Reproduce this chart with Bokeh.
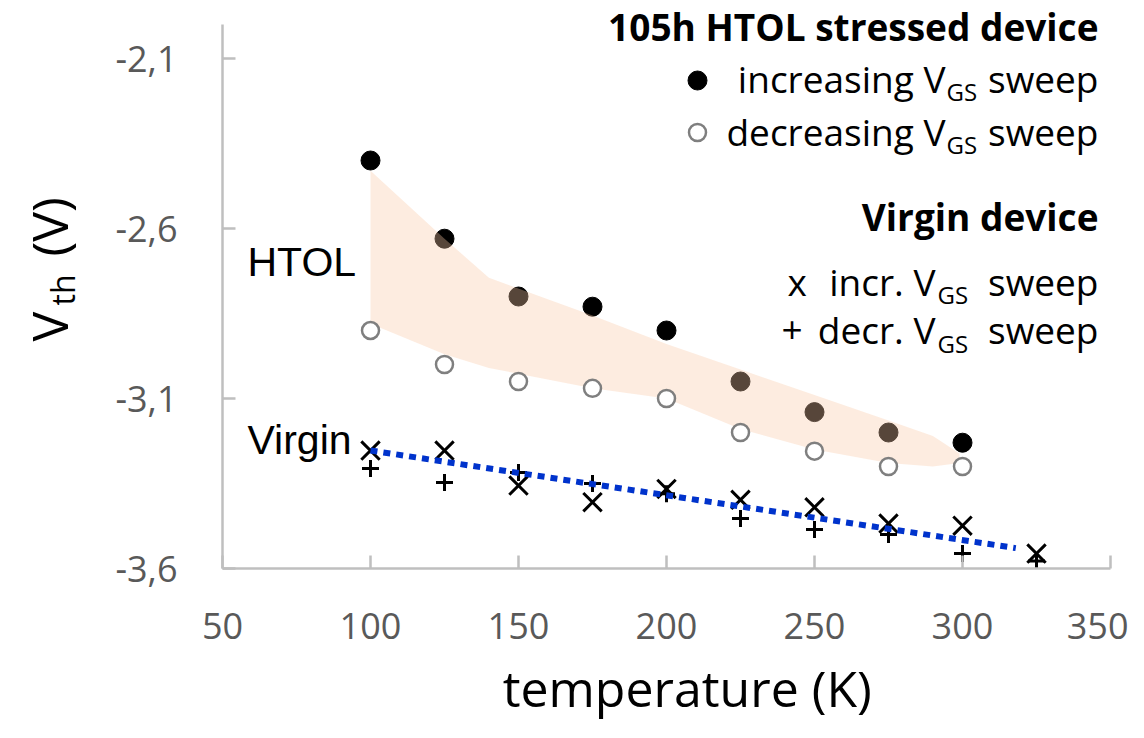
from bokeh.plotting import figure
from bokeh.models import Range1d, FixedTicker, Label
from bokeh.layouts import row, column
from bokeh.core.properties import value
from bokeh.embed import file_html
from bokeh.resources import INLINE
import math

# ---------------- data ----------------
temperature = [100, 125, 150, 175, 200, 225, 250, 275, 300]
htol_incr = [-2.40, -2.63, -2.80, -2.83, -2.90, -3.05, -3.14, -3.20, -3.23]
htol_decr = [-2.90, -3.00, -3.05, -3.07, -3.10, -3.20, -3.255, -3.30, -3.30]

virgin_temperature = [100, 125, 150, 175, 200, 225, 250, 275, 300, 325]
virgin_incr = [-3.253, -3.253, -3.356, -3.405, -3.366, -3.398, -3.42, -3.468, -3.474, -3.556]
virgin_decr = [-3.306, -3.347, -3.318, -3.35, -3.38, -3.453, -3.485, -3.50, -3.556, -3.578]

# shaded HTOL band (upper / lower edge)
band_temperature = [100, 125, 140, 175, 200, 225, 250, 275, 290, 299]
band_upper = [-2.43, -2.63, -2.745, -2.856, -2.94, -3.015, -3.09, -3.165, -3.21, -3.262]
band_lower = [-2.88, -2.97, -3.01, -3.07, -3.10, -3.19, -3.25, -3.29, -3.30, -3.29]

# linear trend of the virgin device
trend_temperature = [100, 318]
trend_vth = [-3.253, -3.54]

x_ticks = [50, 100, 150, 200, 250, 300, 350]
y_ticks = [-3.6, -3.1, -2.6, -2.1]
y_tick_labels = ["-3,6", "-3,1", "-2,6", "-2,1"]

# ---------------- layout ----------------
X0, X1 = 50, 350
Y0, Y_AXIS_TOP = -3.6, -2.0
PX_PER_V = 340.0
W, H = 1128, 722
LEFT_W = 100                      # strip holding the y title
BOTTOM_H = 68                     # strip holding the x title
FRAME_L, FRAME_R, FRAME_T, FRAME_B = 222, 1110, 0, 568  # canvas pixels
Y1 = Y0 + (FRAME_B - FRAME_T) / PX_PER_V
MAIN_W, MAIN_H = W - LEFT_W, H - BOTTOM_H


def dx(px):
    return X0 + (px - FRAME_L) * (X1 - X0) / (FRAME_R - FRAME_L)


def dy(py):
    return Y0 + (FRAME_B - py) / PX_PER_V


FONT = "Open Sans"
AXIS_GREY = "#bfbfbf"
BASE_SHIFT = 0.37   # measured downward shift of Bokeh's alphabetic baseline (em)

p = figure(width=MAIN_W, height=MAIN_H, x_range=Range1d(X0, X1), y_range=Range1d(Y0, Y1),
           output_backend="svg", toolbar_location=None,
           min_border_left=FRAME_L - LEFT_W, min_border_right=W - FRAME_R,
           min_border_top=FRAME_T, min_border_bottom=MAIN_H - FRAME_B)
p.outline_line_color = None
p.xgrid.visible = False
p.ygrid.visible = False

for ax in (p.xaxis[0], p.yaxis[0]):
    ax.axis_line_color = AXIS_GREY
    ax.axis_line_width = 2.5
    ax.major_tick_line_color = AXIS_GREY
    ax.major_tick_line_width = 2.5
    ax.major_tick_in = 13
    ax.major_tick_out = 0
    ax.minor_tick_line_color = None
    ax.major_label_text_font = FONT
    ax.major_label_text_font_size = "36px"
    ax.major_label_text_color = "#595959"

p.xaxis[0].ticker = FixedTicker(ticks=x_ticks)
p.xaxis[0].major_label_standoff = 44
p.yaxis[0].ticker = FixedTicker(ticks=y_ticks)
p.yaxis[0].major_label_overrides = dict(zip(y_ticks, y_tick_labels))
p.yaxis[0].major_label_standoff = 45
p.yaxis[0].bounds = (Y0, Y_AXIS_TOP)

# ---------------- marks ----------------
p.scatter(temperature, htol_incr, marker="circle", size=19,
          fill_color="black", line_color="black")
p.varea(x=band_temperature, y1=band_lower, y2=band_upper,
        fill_color=(249, 201, 166), fill_alpha=0.35)
p.scatter(temperature, htol_decr, marker="circle", size=17,
          fill_color="white", line_color="#7f7f7f", line_width=2.5)
p.scatter(virgin_temperature, virgin_incr, marker="x", size=26,
          line_color="black", line_width=3)
p.scatter(virgin_temperature, virgin_decr, marker="cross", size=17,
          line_color="black", line_width=3)
p.line(trend_temperature, trend_vth, line_color="#0033cc", line_width=6,
       line_dash="7 6", line_cap="butt")


# ---------------- texts ----------------
def txt(px, py, text, size, align="left", bold=False, font=FONT, color="black"):
    """Label whose alphabetic baseline sits at canvas pixel (px, py)."""
    p.add_layout(Label(x=dx(px), y=dy(py - BASE_SHIFT * size), text=text, text_font=font,
                       text_font_size=f"{size}px", text_align=align,
                       text_baseline="alphabetic", text_color=color,
                       text_font_style="bold" if bold else "normal"))


# in-plot labels
txt(247, 277, "HTOL", 41, font="Liberation Sans")
txt(247, 455, "Virgin", 41, font="Liberation Sans")

# legend block
txt(1098, 40, "105h HTOL stressed device", 37, align="right", bold=True)
p.scatter([dx(697)], [dy(80)], marker="circle", size=19, fill_color="black", line_color="black")
txt(945, 92, "increasing V", 37, align="right")
txt(946, 100, "GS", 24)
txt(1098, 92, "sweep", 37, align="right")
p.scatter([dx(697)], [dy(132)], marker="circle", size=17, fill_color="white",
          line_color="#7f7f7f", line_width=2.5)
txt(945, 145, "decreasing V", 37, align="right")
txt(946, 153, "GS", 24)
txt(1098, 145, "sweep", 37, align="right")

txt(1098, 230, "Virgin device", 37, align="right", bold=True)
txt(787, 295, "x", 37)
txt(935, 295, "incr. V", 37, align="right")
txt(937, 303, "GS", 24)
txt(1098, 295, "sweep", 37, align="right")
txt(781, 343, "+", 37)
txt(935, 343, "decr. V", 37, align="right")
txt(937, 352, "GS", 24)
txt(1098, 343, "sweep", 37, align="right")

# ---------------- y title strip ----------------
ylab = figure(width=LEFT_W, height=H, x_range=Range1d(0, LEFT_W), y_range=Range1d(H, 0),
              output_backend="svg", toolbar_location=None,
              x_axis_location=None, y_axis_location=None, min_border=0)
ylab.outline_line_color = None
ylab.grid.visible = False
ylab.text(x=[48], y=[341], text=["V"], angle=math.pi / 2, text_font=value(FONT),
          text_font_size="50px", text_align="left", text_baseline="middle", text_color="black")
ylab.text(x=[62], y=[305], text=["th"], angle=math.pi / 2, text_font=value(FONT),
          text_font_size="32px", text_align="left", text_baseline="middle", text_color="black")
ylab.text(x=[48], y=[256], text=["(V)"], angle=math.pi / 2, text_font=value(FONT),
          text_font_size="50px", text_align="left", text_baseline="middle", text_color="black")

# ---------------- x title strip ----------------
xlab = figure(width=MAIN_W, height=BOTTOM_H, x_range=Range1d(LEFT_W, W), y_range=Range1d(BOTTOM_H, 0),
              output_backend="svg", toolbar_location=None,
              x_axis_location=None, y_axis_location=None, min_border=0)
xlab.outline_line_color = None
xlab.grid.visible = False
xlab.text(x=[638], y=[33], text=["temperature (K)"], text_font=value(FONT),
          text_font_size="50px", text_align="center", text_baseline="middle", text_color="black")

layout = row(ylab, column(p, xlab, spacing=0), spacing=0)

open("out.html", "w").write(file_html(layout, INLINE))
